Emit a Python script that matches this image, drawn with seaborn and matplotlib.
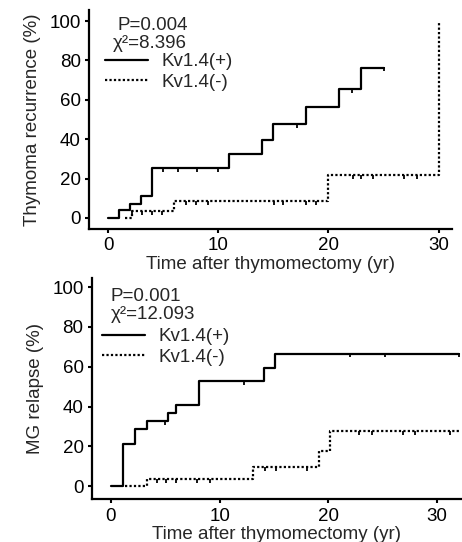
import numpy as np
import pandas as pd
import matplotlib
matplotlib.use("Agg")
import matplotlib.pyplot as plt
from matplotlib.lines import Line2D
import seaborn as sns

# ── Data ──────────────────────────────────────────────────────────────────────
GROUPS = ["Kv1.4(+)", "Kv1.4(-)"]

# Thymoma recurrence
thy_pos_t = [0, 1, 2, 3, 4, 11, 14, 15, 18, 21, 23, 25]
thy_pos_y = [0, 4.2, 7.3, 11, 25.3, 32.6, 39.7, 47.6, 56.6, 65.4, 76.4, 76.4]
thy_neg_t = [1.5, 2.2, 6, 20, 30]
thy_neg_y = [0, 3.4, 8.4, 21.6, 100]
thy_pos_cens = [5.0, 6.3, 8.1, 10.0, 17.1, 22.1, 25.0]
thy_neg_cens = [2.2, 3.1, 4.0, 4.9, 7.1, 8.0, 9.1, 15.1, 15.9, 18.0, 18.9,
                22.2, 23.0, 24.0, 26.9, 28.0]
thy_stats = ["P=0.004", "\u03c7\u00b2=8.396"]

# MG relapse
mg_pos_t = [0, 1.1, 2.2, 3.3, 5.2, 6, 8.1, 14.1, 15.1, 32]
mg_pos_y = [0, 21.4, 28.5, 32.7, 36.9, 41, 52.8, 59.5, 66.5, 66.5]
mg_neg_t = [1.3, 3.3, 13.1, 19.1, 20.1, 32]
mg_neg_y = [0, 3.4, 9.5, 17.9, 27.6, 27.6]
mg_pos_cens = [5.0, 12.2, 22.0, 25.2, 32.0]
mg_neg_cens = [4.2, 5.1, 6.0, 7.9, 9.1, 14.2, 15.2, 18.0,
               22.8, 24.0, 26.9, 28.0, 31.2]
mg_stats = ["P=0.001", "\u03c7\u00b2=12.093"]

X_LABEL = "Time after thymomectomy (yr)"
X_TICKS = [0, 10, 20, 30]
Y_TICKS = [0, 20, 40, 60, 80, 100]

# ── Style ─────────────────────────────────────────────────────────────────────
sns.set_theme(style="ticks")
plt.rcParams["font.family"] = ["Liberation Sans", "DejaVu Sans"]
FS = 13.5
LW = 1.6
DASHES = {GROUPS[0]: "", GROUPS[1]: (1, 1)}


def step_at(t, times, vals):
    i = np.searchsorted(times, t, side="right") - 1
    return vals[max(i, 0)]


def km_panel(ax, pos_t, pos_y, neg_t, neg_y, pos_c, neg_c, stats,
             ylabel, xlim, ylim, txt_xy, leg_xy):
    df = pd.concat([
        pd.DataFrame({"time": pos_t, "pct": pos_y, "group": GROUPS[0]}),
        pd.DataFrame({"time": neg_t, "pct": neg_y, "group": GROUPS[1]}),
    ])
    sns.lineplot(data=df, x="time", y="pct", hue="group", style="group",
                 palette=["black", "black"], dashes=DASHES,
                 drawstyle="steps-post", estimator=None, sort=False,
                 linewidth=LW, legend=False, ax=ax)
    # censor ticks (small, sitting just under the curve)
    for cens, t, y in [(pos_c, pos_t, pos_y), (neg_c, neg_t, neg_y)]:
        cy = [step_at(c, t, y) - 0.8 for c in cens]
        ax.plot(cens, cy, ls="none", marker="|", ms=2.5, mew=1.3, color="black")

    ax.set_xlim(*xlim)
    ax.set_ylim(*ylim)
    ax.set_xticks(X_TICKS)
    ax.set_yticks(Y_TICKS)
    ax.set_xlabel(X_LABEL, fontsize=FS, labelpad=1)
    ax.set_ylabel(ylabel, fontsize=FS, labelpad=6)
    ax.tick_params(labelsize=FS, length=3, width=1.5, pad=3, colors="black")
    for side in ["left", "bottom"]:
        ax.spines[side].set_linewidth(1.6)
        ax.spines[side].set_color("black")
    sns.despine(ax=ax)

    ax.text(txt_xy[0], txt_xy[1], stats[0], transform=ax.transAxes,
            fontsize=FS, va="center", ha="left")
    ax.text(txt_xy[2], txt_xy[3], stats[1], transform=ax.transAxes,
            fontsize=FS, va="center", ha="left")

    handles = [Line2D([], [], color="black", lw=LW),
               Line2D([], [], color="black", lw=LW, dashes=(1, 1))]
    ax.legend(handles, GROUPS, loc="upper left", bbox_to_anchor=leg_xy,
              frameon=False, fontsize=FS, borderaxespad=0, borderpad=0,
              handlelength=2.3, handletextpad=0.7, labelspacing=0.2)


fig = plt.figure(figsize=(4.62, 5.42), dpi=100)
ax1 = fig.add_axes([0.193, 0.5775, 0.785, 0.404])
ax2 = fig.add_axes([0.199, 0.079, 0.799, 0.408])

km_panel(ax1, thy_pos_t, thy_pos_y, thy_neg_t, thy_neg_y,
         thy_pos_cens, thy_neg_cens, thy_stats, "Thymoma recurrence (%)",
         (-1.72, 31.2), (-5.6, 105.6), (0.077, 0.93, 0.066, 0.849),
         (0.044, 0.804))
km_panel(ax2, mg_pos_t, mg_pos_y, mg_neg_t, mg_neg_y,
         mg_pos_cens, mg_neg_cens, mg_stats, "MG relapse (%)",
         (-1.75, 32.2), (-6.5, 104.5), (0.051, 0.918, 0.051, 0.837),
         (0.027, 0.774))

fig.savefig("out.png", dpi=100)
